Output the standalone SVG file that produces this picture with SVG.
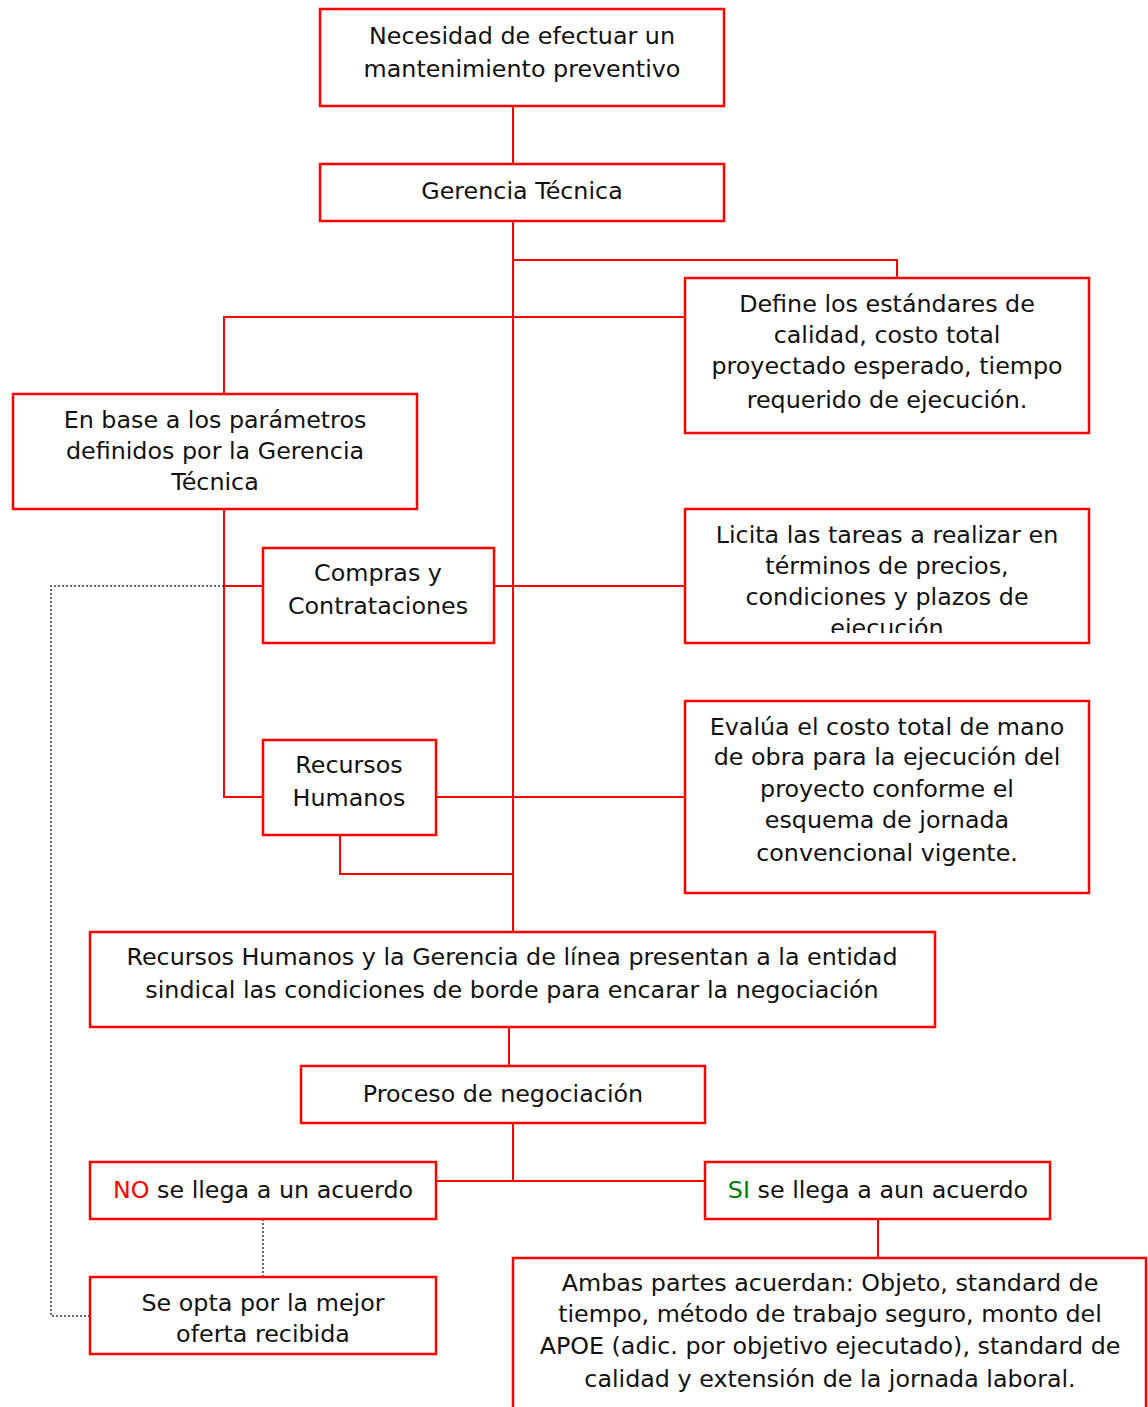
<svg xmlns="http://www.w3.org/2000/svg" width="1148" height="1407" viewBox="0 0 1148 1407">
<style>
.box{fill:#fff;stroke:#ff0000;stroke-width:2.5}
.ln{fill:none;stroke:#ff0000;stroke-width:2}
.dot{fill:none;stroke:#333;stroke-width:1.5;stroke-dasharray:2 2}
text{font-family:"DejaVu Sans","Liberation Sans",sans-serif;font-size:23.8px;fill:#111;text-anchor:middle}
.no{fill:#ff0000}
.si{fill:#008000}
</style>
<defs>
<clipPath id="clipLicita"><rect x="686" y="510" width="402" height="123"/></clipPath>
</defs>
<rect width="1148" height="1407" fill="#fff"/>
<g id="connectors">
<path class="ln" d="M513 106V164"/>
<path class="ln" d="M513 221V932"/>
<path class="ln" d="M513 260H897V278"/>
<path class="ln" d="M224 394V317H685"/>
<path class="ln" d="M224 509V797H263"/>
<path class="ln" d="M224 586H263"/>
<path class="ln" d="M494 586H685"/>
<path class="ln" d="M436 797H685"/>
<path class="ln" d="M340 835V874H513"/>
<path class="ln" d="M509 1027V1066"/>
<path class="ln" d="M513 1123V1181"/>
<path class="ln" d="M436 1181H705"/>
<path class="ln" d="M878 1219V1258"/>
<path class="dot" d="M263 1219V1277"/>
<path class="dot" d="M224 586H51V1316H90"/>
</g>
<g id="n1"><rect class="box" x="320" y="9" width="404" height="97"/>
<text x="522" y="44">Necesidad de efectuar un</text><text x="522" y="77">mantenimiento preventivo</text></g>
<g id="n2"><rect class="box" x="320" y="164" width="404" height="57"/>
<text x="522" y="199">Gerencia Técnica</text></g>
<g id="n3"><rect class="box" x="685" y="278" width="404" height="155"/>
<text x="887" y="312">Define los estándares de</text><text x="887" y="343">calidad, costo total</text><text x="887" y="374">proyectado esperado, tiempo</text><text x="887" y="408">requerido de ejecución.</text></g>
<g id="n4"><rect class="box" x="13" y="394" width="404" height="115"/>
<text x="215" y="428">En base a los parámetros</text><text x="215" y="459">definidos por la Gerencia</text><text x="215" y="490">Técnica</text></g>
<g id="n5"><rect class="box" x="263" y="548" width="231" height="95"/>
<text x="378" y="581">Compras y</text><text x="378" y="614">Contrataciones</text></g>
<g id="n6"><rect class="box" x="685" y="509" width="404" height="134"/>
<g clip-path="url(#clipLicita)"><text x="887" y="543">Licita las tareas a realizar en</text><text x="887" y="574">términos de precios,</text><text x="887" y="605">condiciones y plazos de</text><text x="887" y="636">ejecución</text></g></g>
<g id="n7"><rect class="box" x="263" y="740" width="173" height="95"/>
<text x="349" y="773">Recursos</text><text x="349" y="806">Humanos</text></g>
<g id="n8"><rect class="box" x="685" y="701" width="404" height="192"/>
<text x="887" y="735">Evalúa el costo total de mano</text><text x="887" y="765">de obra para la ejecución del</text><text x="887" y="797">proyecto conforme el</text><text x="887" y="828">esquema de jornada</text><text x="887" y="861">convencional vigente.</text></g>
<g id="n9"><rect class="box" x="90" y="932" width="845" height="95"/>
<text x="512" y="965">Recursos Humanos y la Gerencia de línea presentan a la entidad</text><text x="512" y="998">sindical las condiciones de borde para encarar la negociación</text></g>
<g id="n10"><rect class="box" x="301" y="1066" width="404" height="57"/>
<text x="503" y="1102">Proceso de negociación</text></g>
<g id="n11"><rect class="box" x="90" y="1162" width="346" height="57"/>
<text x="263" y="1198"><tspan class="no">NO</tspan> se llega a un acuerdo</text></g>
<g id="n12"><rect class="box" x="705" y="1162" width="345" height="57"/>
<text x="878" y="1198"><tspan class="si">SI</tspan> se llega a aun acuerdo</text></g>
<g id="n13"><rect class="box" x="90" y="1277" width="346" height="77"/>
<text x="263" y="1311">Se opta por la mejor</text><text x="263" y="1342">oferta recibida</text></g>
<g id="n14"><rect class="box" x="513" y="1258" width="633" height="160"/>
<text x="830" y="1291">Ambas partes acuerdan: Objeto, standard de</text><text x="830" y="1322">tiempo, método de trabajo seguro, monto del</text><text x="830" y="1354">APOE (adic. por objetivo ejecutado), standard de</text><text x="830" y="1387">calidad y extensión de la jornada laboral.</text></g>
</svg>
